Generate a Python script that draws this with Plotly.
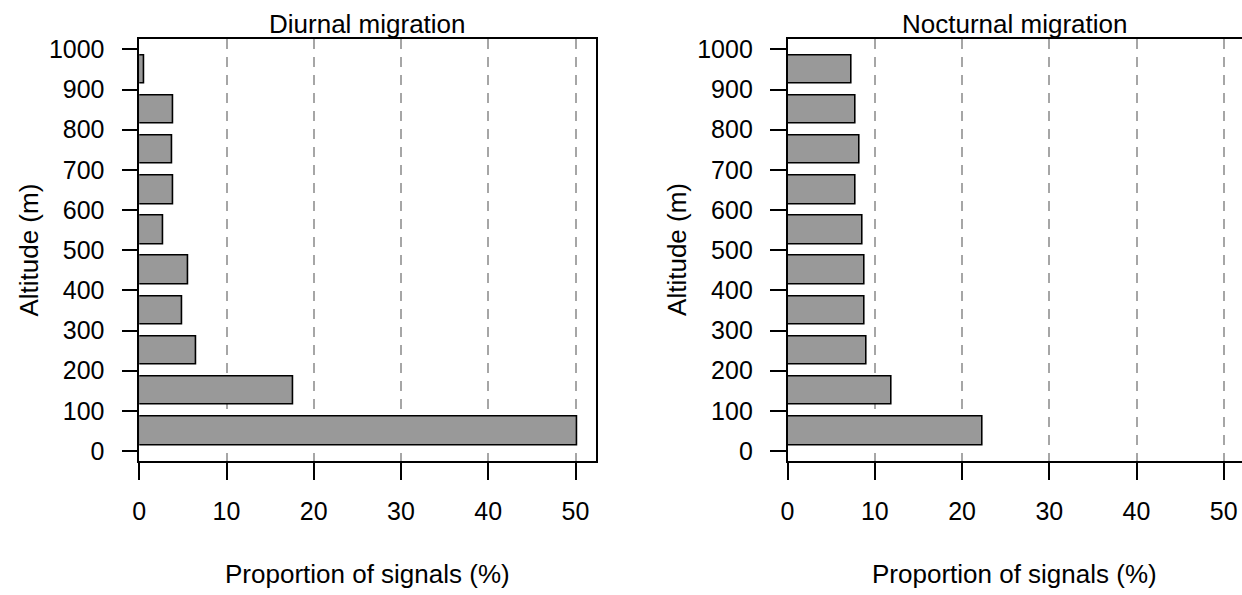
import plotly.graph_objects as go

# altitude bins (bar centres, m) and proportion of signals (%) per bin
altitude_mid = [50, 150, 250, 350, 450, 550, 650, 750, 850, 950]
diurnal = [50.2, 17.7, 6.5, 4.9, 5.6, 2.75, 3.9, 3.75, 3.9, 0.6]
nocturnal = [22.4, 11.9, 9.0, 8.8, 8.8, 8.6, 7.8, 8.2, 7.8, 7.3]

x_ticks = [0, 10, 20, 30, 40, 50]
y_ticks = [0, 100, 200, 300, 400, 500, 600, 700, 800, 900, 1000]

W, H = 1242, 595
FONT = "Liberation Sans, Arial, sans-serif"


def px(v):
    return v / W


def py(v):
    return 1 - v / H


fig = go.Figure()
bar_style = dict(orientation="h", width=71, marker=dict(color="#999999", line=dict(color="black", width=1.6)),
                 showlegend=False, hoverinfo="x+y")
fig.add_trace(go.Bar(x=diurnal, y=altitude_mid, xaxis="x", yaxis="y", **bar_style))
fig.add_trace(go.Bar(x=nocturnal, y=altitude_mid, xaxis="x2", yaxis="y2", **bar_style))

y_dom = [py(463.3), py(36)]
xax = dict(tickvals=x_ticks, ticks="outside", ticklen=17, tickwidth=1.5, tickcolor="black",
           showline=True, linecolor="black", linewidth=1.5, mirror=True,
           showgrid=True, gridcolor="#a6a6a6", griddash="10px,8px", gridwidth=1.5,
           zeroline=False, tickfont=dict(size=25, color="black"), ticklabelstandoff=10)
yax = dict(tickvals=y_ticks, ticks="outside", ticklen=16, tickwidth=1.5, tickcolor="black",
           showline=True, linecolor="black", linewidth=1.5, showgrid=False, zeroline=False,
           range=[-24.6, 1027], domain=y_dom, tickfont=dict(size=25, color="black"), ticklabelstandoff=12)

fig.update_layout(
    width=W, height=H, margin=dict(l=0, r=0, t=0, b=0),
    paper_bgcolor="white", plot_bgcolor="white", bargap=0,
    font=dict(family=FONT, color="black"),
    xaxis=dict(xax, domain=[px(133), px(592)], range=[0, 52.31], anchor="y"),
    yaxis=dict(yax, anchor="x", mirror=True),
    xaxis2=dict(xax, domain=[px(785), 1.0], range=[0, 52.09], anchor="y2"),
    yaxis2=dict(yax, anchor="x2", mirror=False),
)

for xa, ya, title in [("x", "y", "Diurnal migration"), ("x2", "y2", "Nocturnal migration")]:
    fig.add_annotation(text=title, xref=xa + " domain", x=0.5, yref="paper", y=py(21),
                       yanchor="middle", showarrow=False, font=dict(size=26))
    fig.add_annotation(text="Proportion of signals (%)", xref=xa + " domain", x=0.5, yref="paper",
                       y=py(578), yanchor="middle", showarrow=False, font=dict(size=26))

fig.add_annotation(text="Altitude (m)", textangle=-90, xref="paper", x=px(22), xanchor="center",
                   yref="y domain", y=0.5, yanchor="middle", showarrow=False, font=dict(size=26))
fig.add_annotation(text="Altitude (m)", textangle=-90, xref="paper", x=px(674), xanchor="center",
                   yref="y2 domain", y=0.5, yanchor="middle", showarrow=False, font=dict(size=26))

# drop the default body margin so the figure fills the window exactly
fig.write_html("out.html", config={"displayModeBar": False},
               post_script="document.body.style.margin = '0'; document.body.style.overflow = 'hidden';")
